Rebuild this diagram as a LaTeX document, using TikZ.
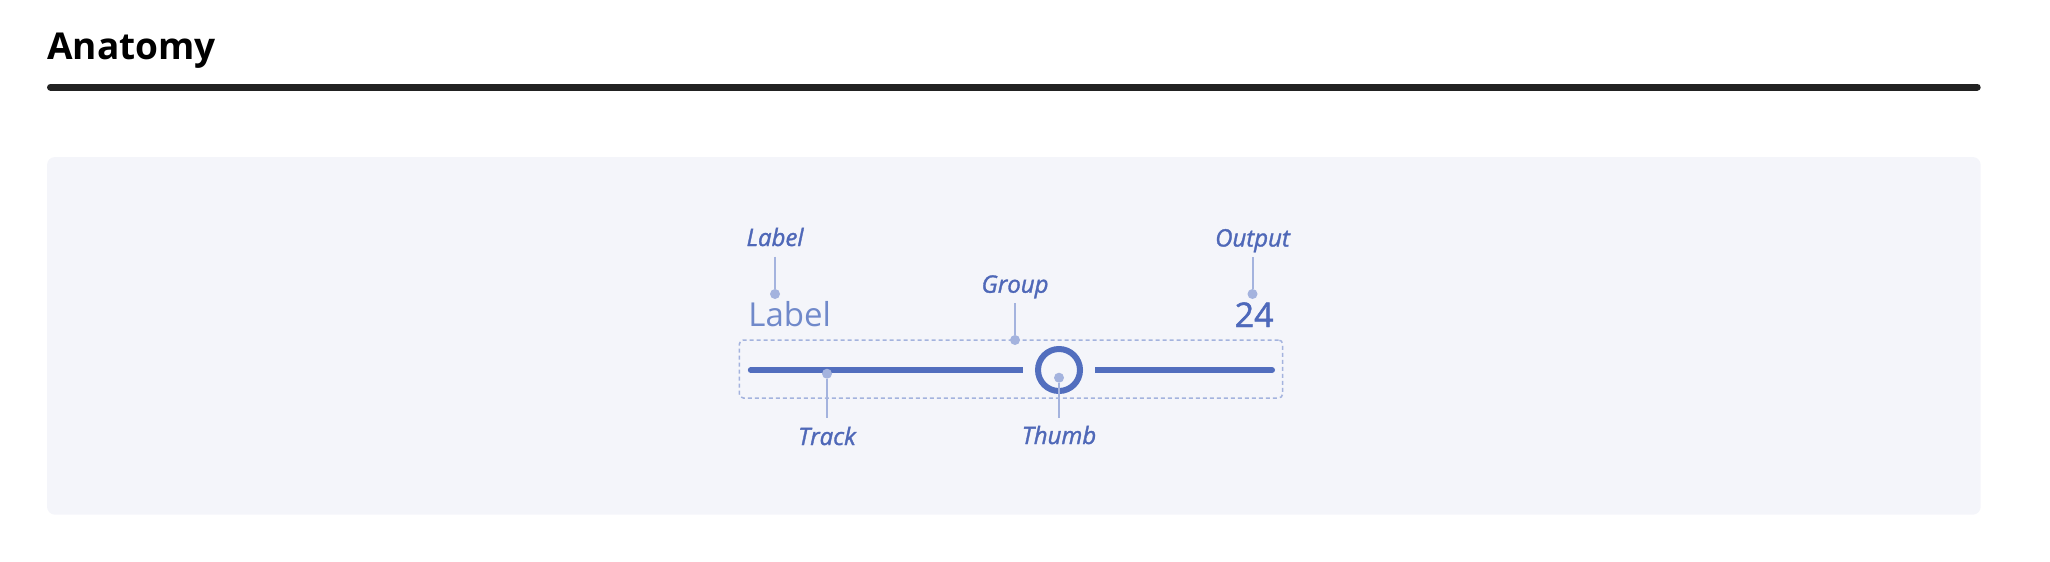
\documentclass[tikz,border=0pt]{standalone}
\usepackage{fontspec}
\setmainfont{Open Sans}
\newfontfamily\annfont{Open Sans}[FakeBold=1.4]
\usetikzlibrary{arrows.meta,positioning}
\definecolor{panelbg}{HTML}{F4F5FA}
\definecolor{rulegray}{HTML}{222222}
\definecolor{trackblue}{HTML}{526EBE}
\definecolor{leader}{HTML}{A4B3DE}
\definecolor{anntext}{HTML}{4F68B8}
\definecolor{labeltext}{HTML}{7089CA}
\definecolor{outtext}{HTML}{4E69BB}

\begin{document}
\begin{tikzpicture}[x=0.5pt,y=-0.5pt,
  ann/.style={font=\annfont\fontsize{12}{14}\selectfont\itshape, text=anntext, inner sep=0pt},
  dot/.style={circle, fill=leader, inner sep=0pt, minimum size=5pt},
  leadline/.style={draw=leader, line width=1pt},
  trackline/.style={draw=trackblue, line width=3pt},
  thumb/.style={circle, draw=trackblue, line width=3pt, fill=panelbg,
    minimum size=21pt, inner sep=0pt},
  groupbox/.style={draw=leader, line width=0.75pt, dash pattern=on 2pt off 1.5pt,
    rounded corners=2pt, minimum width=271.6pt, minimum height=29pt, inner sep=0pt}]
\useasboundingbox (0,0) rectangle (2050,562);

\node[anchor=base west, inner sep=0pt, font=\fontsize{18.5}{22}\selectfont\bfseries] (title) at (47,59) {Anatomy};
\draw[rulegray, line width=3.5pt, line cap=round] (50.5,87) -- (1977.2,87);
\fill[panelbg, rounded corners=4pt] (47,157) rectangle (1980.7,514.7);

% slider
\node[anchor=base west, inner sep=0pt, text=labeltext, font=\fontsize{16.5}{20}\selectfont] (value) at (748,326.7) {Label};
\node[anchor=base east, inner sep=0pt, text=outtext, font=\annfont\fontsize{17}{20}\selectfont] (output) at (1274,327) {24};
\node[groupbox] (group) at (1011,369) {};
\node[thumb] (thumb) at (1059,370) {};
\coordinate (tleft) at (750.8,370);
\coordinate (tright) at (1272,370);
\draw[trackline] (tleft) -- ([xshift=-6pt]thumb.west);
\draw[trackline] ([xshift=6pt]thumb.east) -- (tright);
\fill[trackblue] (tleft) circle (1.5pt) (tright) circle (1.5pt);

% callouts above
\foreach \txt/\x/\y/\d in {Label/775/246/294, Output/1252.5/246.5/294, Group/1015/292.7/340}{
  \node[ann, anchor=base] (a\txt) at (\x,\y) {\txt};
  \node[dot] (d\txt) at (\x,\d) {};
  \draw[leadline] (a\txt.base) ++(0,10.5) -- (d\txt);
}
% callouts below
\foreach \txt/\x/\y/\d in {Track/827/445/373.7, Thumb/1059/444/377.7}{
  \node[ann, anchor=base] (a\txt) at (\x,\y) {\txt};
  \node[dot] (d\txt) at (\x,\d) {};
  \draw[leadline] (d\txt) -- ++(0,418-\d);
}
\end{tikzpicture}
\end{document}
